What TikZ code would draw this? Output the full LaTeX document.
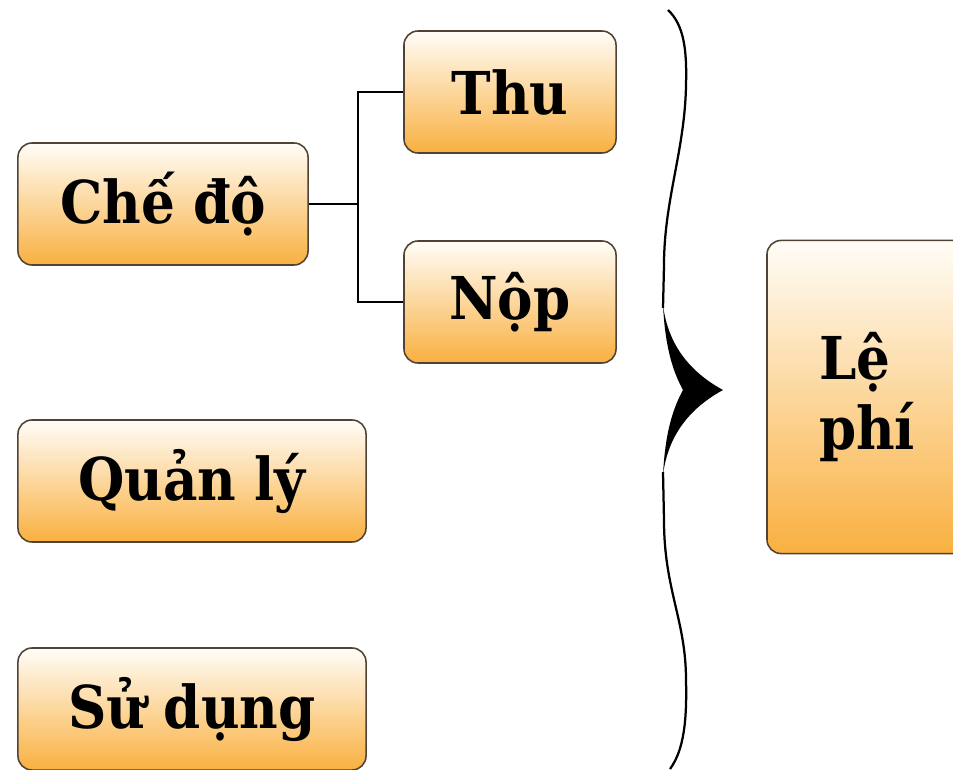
\documentclass[tikz,border=0pt]{standalone}
\usepackage{fontspec}
\setmainfont{DejaVu Serif Condensed}
\begin{document}
\begin{tikzpicture}[x=0.025cm,y=-0.025cm,
  box/.style={draw={rgb,255:red,80;green,66;blue,52},line width=1.1pt,rounded corners=10pt,
    top color={rgb,255:red,255;green,253;blue,248},bottom color={rgb,255:red,249;green,176;blue,64},
    inner sep=0pt,font=\fontsize{42}{50}\selectfont\bfseries,align=left},
  conn/.style={line width=1.3pt,black},
  bracestroke/.style={line width=1.6pt,black}]
\useasboundingbox (0,0) rectangle (953,769);
\node[box,minimum width=7.25cm,minimum height=3.05cm] (che) at (163,204) {Chế độ};
\node[box,minimum width=5.3cm,minimum height=3.05cm] (thu) at (510,92) {Thu};
\node[box,minimum width=5.3cm,minimum height=3.05cm] (nop) at (510,302) {Nộp};
\node[box,minimum width=8.7cm,minimum height=3.05cm] (ql) at (192,481) {Quản lý};
\node[box,minimum width=8.7cm,minimum height=3.05cm] (sd) at (192,709) {Sử dụng};
\node[box,minimum width=5cm,minimum height=7.825cm] (le) at (867,397) {Lệ\\phí};
\coordinate (j) at (358,204);
\draw[conn] (che.east) -- (j);
\draw[conn] (thu.west) -| (j);
\draw[conn] (nop.west) -| (j);
% brace
\draw[bracestroke] (668,10) .. controls (684,25) and (687,50) .. (686,85) .. controls (685,150) and (664,200) .. (664,265) -- (663,308);
\draw[bracestroke] (663,472) -- (664,520) .. controls (664,590) and (686,620) .. (686,680) .. controls (687,720) and (684,750) .. (670,769);
\fill (663,305) .. controls (668,345) and (690,372) .. (723,390) .. controls (690,408) and (668,435) .. (663,475)
  .. controls (665,435) and (672,410) .. (683,390) .. controls (672,370) and (665,345) .. (663,305) -- cycle;
\end{tikzpicture}
\end{document}
